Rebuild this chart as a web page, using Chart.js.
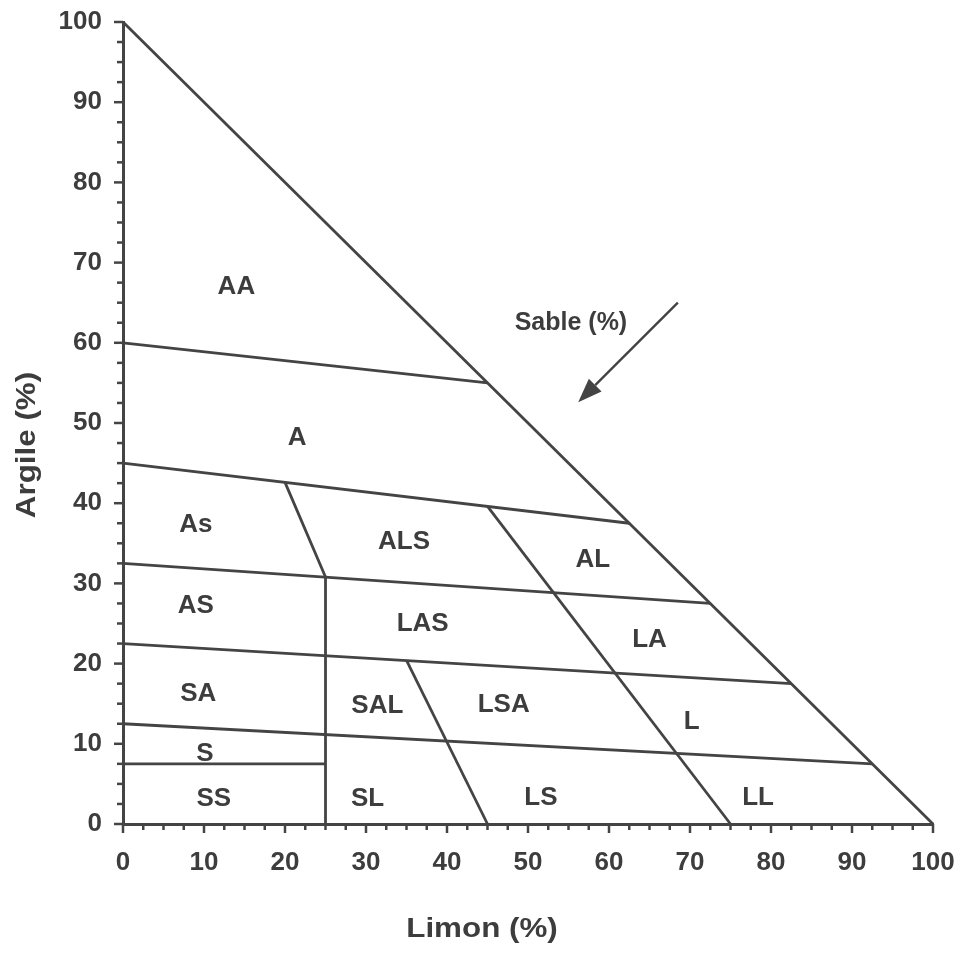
<!DOCTYPE html>
<html>
<head>
<meta charset="utf-8">
<script src="https://cdn.jsdelivr.net/npm/chart.js@4.4.1/dist/chart.umd.min.js"></script>
<style>
  html, body { margin: 0; padding: 0; background: #ffffff; }
  #wrap { width: 958px; height: 953px; }
</style>
</head>
<body>
<div id="wrap"><canvas id="c" width="958" height="953"></canvas></div>
<script>
// ---- Data (Limon % on x, Argile % on y) ----
const tickValues = [0, 10, 20, 30, 40, 50, 60, 70, 80, 90, 100];

// Boundary lines of the texture triangle, each as a list of [limon, argile]
const hypotenuse   = [[0, 100], [100, 0]];
const line60       = [[0, 60], [45, 55]];
const line45       = [[0, 45], [62.5, 37.5]];
const line32       = [[0, 32.5], [72.5, 27.5]];
const line22       = [[0, 22.5], [82.5, 17.5]];
const line12       = [[0, 12.5], [92.5, 7.5]];
const line7        = [[0, 7.5], [25, 7.5]];
const splitSand    = [[20, 42.6], [25, 30.8], [25, 0]];
const splitSilt    = [[45, 39.6], [75, 0]];
const splitSAL     = [[35, 20.4], [45, 0]];

// Region labels
const regionNames = ['AA', 'A', 'As', 'ALS', 'AL', 'AS', 'LAS', 'LA', 'SA', 'SAL', 'LSA', 'L', 'S', 'SS', 'SL', 'LS', 'LL'];
const regionX     = [14, 21.5, 9, 34.7, 58, 9, 37, 65, 9.3, 31.4, 47, 70.2, 10.1, 11.2, 30.2, 51.6, 78.4];
const regionY     = [67, 48.2, 37.3, 35.2, 33, 27.2, 25, 23, 16.2, 14.7, 14.8, 12.8, 8.7, 3.2, 3.2, 3.3, 3.3];

// Sand annotation
const sandLabel = 'Sable (%)';
const sandLabelPos = [55.3, 62.4];
const sandArrowFrom = [68.5, 65];
const sandArrowTo = [56.2, 52.6];

const xTitle = 'Limon (%)';
const yTitle = 'Argile (%)';

// ---- Styling ----
const INK = '#444444';
const TXT = '#3d3d3d';
const FONT = '"Liberation Sans", Arial, sans-serif';

const boundaries = [hypotenuse, line60, line45, line32, line22, line12, line7, splitSand, splitSilt, splitSAL];
const datasets = boundaries.map(seg => ({
  data: seg.map(p => ({ x: p[0], y: p[1] })),
  showLine: true,
  borderColor: INK,
  borderWidth: 2.8,
  pointRadius: 0,
  fill: false,
  clip: 10
}));

const decorPlugin = {
  id: 'decor',
  afterDatasetsDraw(chart) {
    const ctx = chart.ctx;
    const xs = chart.scales.x, ys = chart.scales.y;
    const ca = chart.chartArea;
    ctx.save();
    // tick marks
    ctx.strokeStyle = INK;
    ctx.lineWidth = 2.5;
    for (let v = 0; v <= 100.001; v += 2.5) {
      const major = Math.abs(v % 10) < 1e-6;
      const len = major ? 9 : 6;
      const py = ys.getPixelForValue(v);
      ctx.beginPath(); ctx.moveTo(ca.left - len, py); ctx.lineTo(ca.left, py); ctx.stroke();
      const px = xs.getPixelForValue(v);
      ctx.beginPath(); ctx.moveTo(px, ca.bottom); ctx.lineTo(px, ca.bottom + len); ctx.stroke();
    }
    // region labels
    ctx.fillStyle = TXT;
    ctx.font = 'bold 26px ' + FONT;
    ctx.textAlign = 'center';
    ctx.textBaseline = 'middle';
    regionNames.forEach((n, i) => {
      ctx.fillText(n, xs.getPixelForValue(regionX[i]), ys.getPixelForValue(regionY[i]));
    });
    // sand label
    ctx.font = 'bold 25px ' + FONT;
    ctx.fillText(sandLabel, xs.getPixelForValue(sandLabelPos[0]), ys.getPixelForValue(sandLabelPos[1]));
    // arrow
    const x1 = xs.getPixelForValue(sandArrowFrom[0]), y1 = ys.getPixelForValue(sandArrowFrom[1]);
    const x2 = xs.getPixelForValue(sandArrowTo[0]), y2 = ys.getPixelForValue(sandArrowTo[1]);
    const ang = Math.atan2(y2 - y1, x2 - x1);
    const headLen = 24, headW = 9;
    const bx = x2 - headLen * Math.cos(ang), by = y2 - headLen * Math.sin(ang);
    ctx.strokeStyle = INK; ctx.lineWidth = 2.4;
    ctx.beginPath(); ctx.moveTo(x1, y1); ctx.lineTo(bx, by); ctx.stroke();
    ctx.fillStyle = INK;
    ctx.beginPath();
    ctx.moveTo(x2, y2);
    ctx.lineTo(bx + headW * Math.sin(ang), by - headW * Math.cos(ang));
    ctx.lineTo(bx - headW * Math.sin(ang), by + headW * Math.cos(ang));
    ctx.closePath(); ctx.fill();
    ctx.restore();
  },
  afterDraw(chart) {
    const ctx = chart.ctx;
    ctx.save();
    ctx.fillStyle = TXT;
    ctx.font = 'bold 28px ' + FONT;
    ctx.textAlign = 'center';
    ctx.textBaseline = 'middle';
    // x title
    ctx.save();
    ctx.translate(482, 929);
    ctx.scale(1.12, 1);
    ctx.fillText(xTitle, 0, 0);
    ctx.restore();
    // y title
    ctx.save();
    ctx.translate(27, 445);
    ctx.rotate(-Math.PI / 2);
    ctx.scale(1.12, 1);
    ctx.fillText(yTitle, 0, 0);
    ctx.restore();
    ctx.restore();
  }
};

new Chart(document.getElementById('c'), {
  type: 'scatter',
  data: { datasets },
  options: {
    responsive: false,
    animation: false,
    events: [],
    layout: { padding: { top: 22, right: 25, left: 0, bottom: 0 } },
    plugins: { legend: { display: false }, tooltip: { enabled: false }, title: { display: false } },
    scales: {
      x: {
        type: 'linear', min: 0, max: 100,
        afterBuildTicks: s => { s.ticks = tickValues.map(v => ({ value: v })); },
        afterFit: s => { s.height = 129; s.paddingLeft = 0; s.paddingRight = 0; s.paddingTop = 0; s.paddingBottom = 0; },
        grid: { display: false, drawTicks: false },
        border: { display: true, color: INK, width: 3 },
        ticks: { color: TXT, padding: 23, maxRotation: 0, autoSkip: false,
                 font: { family: FONT, size: 26, weight: 'bold' } }
      },
      y: {
        type: 'linear', min: 0, max: 100,
        afterBuildTicks: s => { s.ticks = tickValues.map(v => ({ value: v })); },
        afterFit: s => { s.width = 123; s.paddingLeft = 0; s.paddingRight = 0; s.paddingTop = 0; s.paddingBottom = 0; },
        grid: { display: false, drawTicks: false },
        border: { display: true, color: INK, width: 3 },
        ticks: { color: TXT, padding: 21, autoSkip: false,
                 font: { family: FONT, size: 26, weight: 'bold' } }
      }
    }
  },
  plugins: [decorPlugin]
});
</script>
</body>
</html>
